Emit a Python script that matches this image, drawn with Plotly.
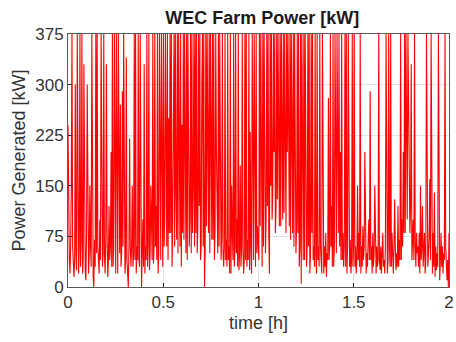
import numpy as np
import plotly.graph_objects as go

# Power samples [kW] in consecutive segments of time
seg_a = [240, 90, 40, 20, 60, 150, 375, 60, 30, 15, 40, 300, 50, 25, 375, 40, 20, 60, 375, 30, 70, 375, 20, 45, 330, 60, 25, 10, 80, 300, 35, 20, 50, 150, 60, 30, 375, 40, 15, 0, 70, 30, 375, 50, 375, 60, 40, 20]
seg_b = [100, 40, 375, 60, 30, 50, 375, 50, 20, 70, 330, 80, 15, 40, 120, 40, 60, 200, 30, 375, 30, 60, 375, 60, 20, 375, 40, 20, 375, 100, 50, 270, 30, 50, 290, 60, 375, 70, 20, 40, 340, 40, 20, 0, 60, 220, 60, 30]
seg_c = [60, 150, 30, 50, 375, 40, 375, 20, 60, 40, 375, 40, 30, 375, 15, 0, 50, 100, 30, 330, 20, 60, 40, 375, 30, 60, 375, 25, 50, 150, 80, 40, 375, 35, 60, 375, 60, 120, 40, 375, 20, 50, 375, 90, 40, 375, 60, 30]
seg_d = [375, 60, 100, 375, 120, 60, 375, 40, 250, 80, 375, 80, 375, 30, 90, 200, 375, 60, 375, 140, 70, 375, 50, 375, 90, 60, 375, 30, 240, 80, 375, 70, 375, 110, 50, 375, 40, 375, 200, 60, 100, 375, 50, 375, 80, 150, 375, 60]
seg_e = [375, 80, 375, 50, 90, 375, 120, 375, 40, 60, 300, 375, 60, 375, 0, 60, 375, 90, 375, 150, 80, 375, 50, 375, 260, 70, 375, 70, 375, 40, 90, 375, 200, 90, 50, 375, 60, 375, 120, 40, 80, 375, 50, 30, 60, 375, 40, 70]
seg_f = [30, 375, 40, 60, 20, 375, 20, 150, 80, 40, 375, 30, 60, 375, 50, 100, 30, 375, 25, 50, 180, 30, 60, 375, 60, 20, 40, 375, 40, 375, 30, 70, 40, 375, 25, 230, 60, 20, 375, 80, 40, 375, 60, 30, 375, 50, 90, 40]
seg_g = [40, 375, 90, 375, 60, 30, 375, 60, 375, 250, 50, 100, 375, 120, 375, 80, 20, 375, 150, 375, 100, 140, 375, 200, 375, 80, 120, 375, 130, 375, 250, 90, 375, 90, 375, 170, 100, 375, 110, 375, 150, 80, 375, 200, 375, 120, 90, 375]
seg_h = [70, 375, 140, 80, 375, 60, 375, 200, 50, 90, 375, 80, 375, 30, 60, 375, 5, 375, 60, 40, 375, 40, 375, 100, 30, 60, 375, 60, 375, 20, 50, 375, 80, 375, 40, 60, 30, 375, 50, 20, 375, 40, 60, 30, 375, 60, 40, 20]
seg_i = [375, 40, 20, 60, 30, 80, 15, 50, 40, 280, 40, 60, 375, 60, 120, 30, 375, 30, 60, 375, 100, 50, 375, 150, 80, 375, 60, 200, 40, 375, 40, 80, 30, 60, 375, 30, 375, 20, 60, 375, 50, 30, 70, 20, 40, 375, 30, 60]
seg_j = [375, 30, 60, 20, 40, 150, 40, 80, 30, 375, 20, 60, 30, 90, 40, 60, 200, 60, 20, 50, 30, 70, 100, 40, 290, 40, 60, 20, 80, 30, 50, 150, 50, 20, 60, 30, 40, 375, 40, 25, 60, 20, 50, 80, 30, 40, 20, 60]
seg_k = [375, 50, 20, 40, 375, 60, 30, 375, 30, 80, 40, 20, 60, 130, 60, 25, 50, 30, 120, 30, 70, 40, 375, 40, 100, 60, 200, 80, 375, 80, 375, 150, 100, 375, 300, 200, 80, 120, 330, 40, 60, 100, 40, 375, 60, 30, 80, 50]
seg_l = [60, 30, 80, 20, 150, 40, 60, 120, 30, 50, 80, 20, 40, 375, 60, 30, 50, 70, 160, 40, 375, 40, 20, 80, 30, 140, 15, 60, 25, 50, 30, 375, 60, 10, 40, 80, 30, 60, 20, 50, 40, 375, 60, 30, 10, 40, 0, 80]

power = seg_a + seg_b + seg_c + seg_d + seg_e + seg_f + seg_g + seg_h + seg_i + seg_j + seg_k + seg_l
t_start, t_end = 0.0, 2.0
time_h = np.linspace(t_start, t_end, len(power))

x_ticks = [0, 0.5, 1, 1.5, 2]
x_tick_labels = ["0", "0.5", "1", "1.5", "2"]
y_ticks = [0, 75, 150, 225, 300, 375]

FONT = "Liberation Sans, Arial, Helvetica"

fig = go.Figure()
fig.add_trace(go.Scatter(x=time_h, y=power, mode="lines",
                         line=dict(color="#ff0000", width=1.1), showlegend=False))

axis_common = dict(showline=True, mirror=True, linecolor="#5a5a5a", linewidth=1,
                   ticks="inside", ticklen=4, tickcolor="#262626",
                   showgrid=True, gridcolor="#e3e3e3", gridwidth=1,
                   zeroline=False,
                   ticklabeloverflow="allow",
                   tickfont=dict(family=FONT, size=17, color="#333333"),
                   title_font=dict(family=FONT, size=18, color="#333333"))

fig.update_xaxes(range=[t_start, t_end], tickvals=x_ticks, ticktext=x_tick_labels,
                 title_text="time [h]", title_standoff=4, **axis_common)
fig.update_yaxes(range=[0, 375], tickvals=y_ticks,
                 title_text="Power Generated [kW]", title_standoff=4, **axis_common)

fig.update_layout(
    width=456, height=342,
    margin=dict(l=68, r=2, t=34, b=55),
    paper_bgcolor="white", plot_bgcolor="white",
    title=dict(text="<b>WEC Farm Power [kW]</b>", x=0.575, xanchor="center", y=0.947, yanchor="middle",
               font=dict(family=FONT, size=18, color="#1a1a1a")),
)

fig.write_html("out.html")
